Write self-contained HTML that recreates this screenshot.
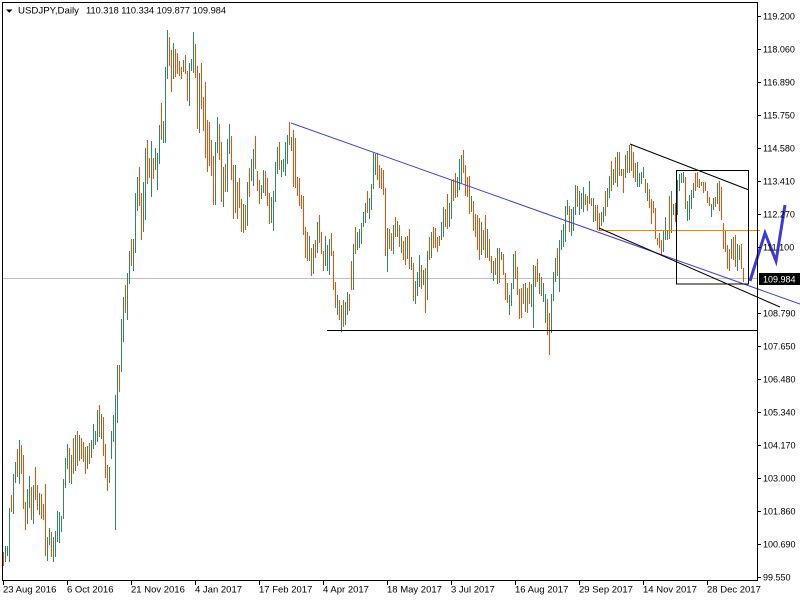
<!DOCTYPE html>
<html>
<head>
<meta charset="utf-8">
<style>
html,body{margin:0;padding:0;background:#fff;}
svg{display:block;}
text{font-family:"Liberation Sans",sans-serif;}
</style>
</head>
<body>
<svg width="800" height="600" viewBox="0 0 800 600" xmlns="http://www.w3.org/2000/svg">
<rect x="0" y="0" width="800" height="600" fill="#fff"/>
<!-- bid line -->
<line x1="3" y1="278.5" x2="757" y2="278.5" stroke="#c0c0c0" stroke-width="1"/>
<!-- green bars -->
<path fill="none" stroke="#2e8b57" stroke-width="1" d="M5.5 546V562M7.5 546V556M9.5 508V562M13.5 474V514M15.5 462V483M19.5 440V484M27.5 489V524M29.5 476V508M33.5 485V524M39.5 493V515M47.5 537V561M49.5 528V545M53.5 537V562M55.5 531V557M57.5 511V542M59.5 512V543M61.5 516V532M63.5 479V519M65.5 458V488M67.5 444V469M71.5 455V484M75.5 435V471M79.5 435V461M87.5 446V469M91.5 440V458M93.5 424V449M95.5 431V445M97.5 410V442M101.5 414V439M109.5 467V483M111.5 431V459M113.5 415V442M115.5 395V530M117.5 365V423M121.5 319V372M123.5 297V342M127.5 273V320M129.5 251V284M133.5 239V271M135.5 193V253M137.5 177V211M143.5 182V232M145.5 148V220M151.5 141V197M155.5 148V170M157.5 153V190M159.5 125V164M163.5 121V143M165.5 67V143M167.5 30V79M173.5 43V79M183.5 60V72M189.5 63V106M191.5 59V71M193.5 32V73M199.5 73V133M215.5 142V205M217.5 117V153M223.5 167V207M227.5 139V192M229.5 124V154M235.5 165V213M243.5 204V233M247.5 182V226M251.5 159V181M253.5 149V186M261.5 185V199M263.5 170V193M271.5 197V223M273.5 191V231M275.5 162V202M277.5 147V174M281.5 160V177M283.5 159V172M285.5 142V176M287.5 135V164M291.5 137V151M309.5 236V261M313.5 244V274M317.5 222V253M325.5 236V266M327.5 245V271M329.5 239V275M337.5 295V315M341.5 305V332M345.5 302V325M347.5 292V315M353.5 244V290M357.5 232V250M359.5 229V248M361.5 223V244M363.5 212V227M365.5 203V223M369.5 198V219M371.5 184V210M373.5 153V189M375.5 154V175M387.5 228V272M393.5 225V254M397.5 221V237M401.5 236V253M407.5 236V259M411.5 257V270M415.5 281V304M417.5 272V296M419.5 255V287M423.5 270V285M427.5 251V300M431.5 232V258M441.5 222V240M443.5 207V237M449.5 203V227M451.5 180V219M457.5 177V197M459.5 159V190M461.5 155V183M471.5 196V212M481.5 222V255M487.5 229V258M493.5 261V281M497.5 248V284M501.5 252V260M509.5 295V315M511.5 283V306M513.5 254V289M525.5 283V312M531.5 284V307M533.5 265V328M539.5 273V294M543.5 283V302M545.5 294V323M551.5 294V333M553.5 272V301M555.5 258V282M559.5 240V292M561.5 230V250M563.5 224V247M565.5 206V242M567.5 200V215M571.5 209V236M573.5 207V231M575.5 185V215M579.5 191V215M581.5 193V209M583.5 187V212M589.5 181V204M593.5 198V222M601.5 212V226M603.5 207V222M607.5 188V207M609.5 176V198M613.5 169V185M617.5 152V187M621.5 169V176M625.5 155V178M629.5 145V173M637.5 162V187M639.5 173V187M641.5 172V184M643.5 167V178M647.5 183V201M663.5 230V252M665.5 217V240M667.5 230V240M671.5 191V233M673.5 204V215M677.5 180V215M679.5 174V191M681.5 173V183M683.5 172V183M687.5 201V221M689.5 195V220M691.5 190V209M693.5 183V198M701.5 182V186M711.5 204V217M713.5 198V210M717.5 183V204M731.5 239V259M737.5 244V271M739.5 245V260"/>
<!-- orange bars -->
<path fill="none" stroke="#ff4500" stroke-width="1" d="M3.5 552V566M11.5 495V512M17.5 449V477M21.5 445V474M23.5 455V509M25.5 502V530M31.5 487V520M35.5 467V500M37.5 485V510M41.5 494V519M43.5 504V520M45.5 484V556M51.5 532V557M69.5 448V483M73.5 438V474M77.5 431V466M81.5 438V459M83.5 442V462M85.5 447V474M89.5 443V464M99.5 405V437M103.5 417V456M105.5 444V478M107.5 465V491M119.5 365V392M125.5 285V313M131.5 239V266M139.5 167V206M141.5 193V240M147.5 140V184M149.5 158V178M153.5 158V179M161.5 103V140M169.5 37V66M171.5 50V92M175.5 49V77M177.5 53V74M179.5 61V76M181.5 67V79M185.5 55V74M187.5 71V101M195.5 44V78M197.5 66V129M201.5 63V109M203.5 97V131M205.5 82V158M207.5 120V172M209.5 122V166M211.5 140V176M213.5 156V205M219.5 124V160M221.5 142V202M225.5 164V192M231.5 136V180M233.5 165V219M237.5 182V219M239.5 178V208M241.5 199V232M245.5 205V230M249.5 168V197M255.5 136V169M257.5 171V191M259.5 180V204M265.5 171V196M267.5 178V206M269.5 193V224M279.5 142V170M289.5 122V145M293.5 130V187M295.5 138V188M297.5 177V196M299.5 178V206M301.5 195V209M303.5 196V235M305.5 227V258M307.5 232V261M311.5 248V276M315.5 240V258M319.5 215V243M321.5 232V254M323.5 251V271M331.5 233V256M333.5 251V290M335.5 282V308M339.5 300V320M343.5 300V327M349.5 294V311M351.5 261V290M355.5 227V254M367.5 191V213M377.5 153V180M379.5 165V188M381.5 168V189M383.5 170V195M385.5 188V256M389.5 229V249M391.5 233V251M395.5 217V237M399.5 225V247M403.5 241V260M405.5 237V265M409.5 229V269M413.5 263V301M421.5 265V289M425.5 268V313M429.5 237V260M433.5 227V248M435.5 228V248M437.5 237V252M439.5 236V246M445.5 209V227M447.5 194V229M453.5 179V201M455.5 173V198M463.5 150V173M465.5 165V196M467.5 177V197M469.5 176V214M473.5 201V231M475.5 214V237M477.5 215V250M479.5 218V260M483.5 230V250M485.5 215V258M489.5 239V261M491.5 256V273M495.5 258V275M499.5 248V283M503.5 254V275M505.5 273V300M507.5 283V303M515.5 251V279M517.5 267V295M519.5 289V319M521.5 288V318M523.5 284V304M527.5 288V313M529.5 282V304M535.5 266V287M537.5 259V282M541.5 277V296M547.5 299V335M549.5 313V355M557.5 248V276M569.5 206V232M577.5 186V207M585.5 194V205M587.5 196V211M591.5 198V206M595.5 205V221M597.5 205V230M599.5 213V230M605.5 191V216M611.5 161V191M615.5 157V183M619.5 152V176M623.5 169V193M627.5 151V173M631.5 144V171M633.5 152V178M635.5 163V182M645.5 179V193M649.5 189V208M651.5 199V224M653.5 201V213M655.5 208V239M657.5 238V245M659.5 233V248M661.5 240V255M669.5 196V239M675.5 203V222M685.5 177V209M695.5 173V191M697.5 172V187M699.5 179V188M703.5 182V193M705.5 182V191M707.5 191V203M709.5 197V206M715.5 197V207M719.5 181V211M721.5 187V220M723.5 223V249M725.5 231V252M727.5 245V269M729.5 249V271M733.5 237V260M735.5 235V267M741.5 244V269M743.5 268V282"/>

<!-- drawn objects -->
<line x1="291" y1="123" x2="800" y2="304" stroke="#4040d0" stroke-width="1"/>
<line x1="327" y1="330.5" x2="758" y2="330.5" stroke="#000" stroke-width="1"/>
<line x1="598" y1="230.5" x2="760" y2="230.5" stroke="#ff8000" stroke-width="1"/>
<line x1="630" y1="144" x2="749" y2="190" stroke="#000" stroke-width="1"/>
<line x1="599" y1="228" x2="780" y2="307" stroke="#000" stroke-width="1"/>
<rect x="676.5" y="170.5" width="72" height="113.5" fill="none" stroke="#000" stroke-width="1"/>
<polyline points="750,281 765,233 776,261 785,205" fill="none" stroke="#3c3cd0" stroke-width="3" stroke-linejoin="miter"/>

<!-- frame -->
<rect x="2.5" y="2.5" width="755" height="578" fill="none" stroke="#000" stroke-width="1"/>

<!-- price axis ticks -->
<path stroke="#000" stroke-width="1" fill="none" d="M757 16.5H761M757 49.5H761M757 82.5H761M757 115.5H761M757 148.5H761M757 181.5H761M757 214.5H761M757 247.5H761M757 313.5H761M757 346.5H761M757 379.5H761M757 412.5H761M757 445.5H761M757 478.5H761M757 511.5H761M757 544.5H761M757 577.5H761"/>
<g font-size="9" fill="#000">
<text x="763" y="19.5">119.200</text>
<text x="763" y="52.5">118.060</text>
<text x="763" y="85.5">116.890</text>
<text x="763" y="118.5">115.750</text>
<text x="763" y="151.5">114.580</text>
<text x="763" y="184.5">113.410</text>
<text x="763" y="217.5">112.270</text>
<text x="763" y="250.5">111.100</text>
<text x="763" y="316.5">108.790</text>
<text x="763" y="349.5">107.650</text>
<text x="763" y="382.5">106.480</text>
<text x="763" y="415.5">105.340</text>
<text x="763" y="448.5">104.170</text>
<text x="763" y="481.5">103.000</text>
<text x="763" y="514.5">101.860</text>
<text x="763" y="547.5">100.690</text>
<text x="763" y="580.5">99.550</text>
</g>
<!-- bid label -->
<rect x="759" y="273" width="41" height="12" fill="#000"/>
<text x="763" y="282.5" font-size="9" fill="#fff">109.984</text>

<!-- date ticks -->
<path stroke="#000" stroke-width="1" fill="none" d="M3.5 580V585M67.5 580V585M131.5 580V585M195.5 580V585M259.5 580V585M323.5 580V585M387.5 580V585M451.5 580V585M515.5 580V585M579.5 580V585M643.5 580V585M707.5 580V585"/>
<g font-size="9.5" fill="#000">
<text x="3" y="592.5">23 Aug 2016</text>
<text x="67" y="592.5">6 Oct 2016</text>
<text x="131" y="592.5">21 Nov 2016</text>
<text x="195" y="592.5">4 Jan 2017</text>
<text x="259" y="592.5">17 Feb 2017</text>
<text x="323" y="592.5">4 Apr 2017</text>
<text x="387" y="592.5">18 May 2017</text>
<text x="451" y="592.5">3 Jul 2017</text>
<text x="515" y="592.5">16 Aug 2017</text>
<text x="579" y="592.5">29 Sep 2017</text>
<text x="643" y="592.5">14 Nov 2017</text>
<text x="707" y="592.5">28 Dec 2017</text>
</g>

<!-- header -->
<polygon points="6,9.5 12.5,9.5 9.25,12.8" fill="#000"/>
<text x="18" y="13.5" font-size="9.5" fill="#000" textLength="61" lengthAdjust="spacingAndGlyphs">USDJPY,Daily</text>
<text x="86" y="13.5" font-size="9.5" fill="#000" textLength="140" lengthAdjust="spacingAndGlyphs">110.318 110.334 109.877 109.984</text>
</svg>
</body>
</html>
